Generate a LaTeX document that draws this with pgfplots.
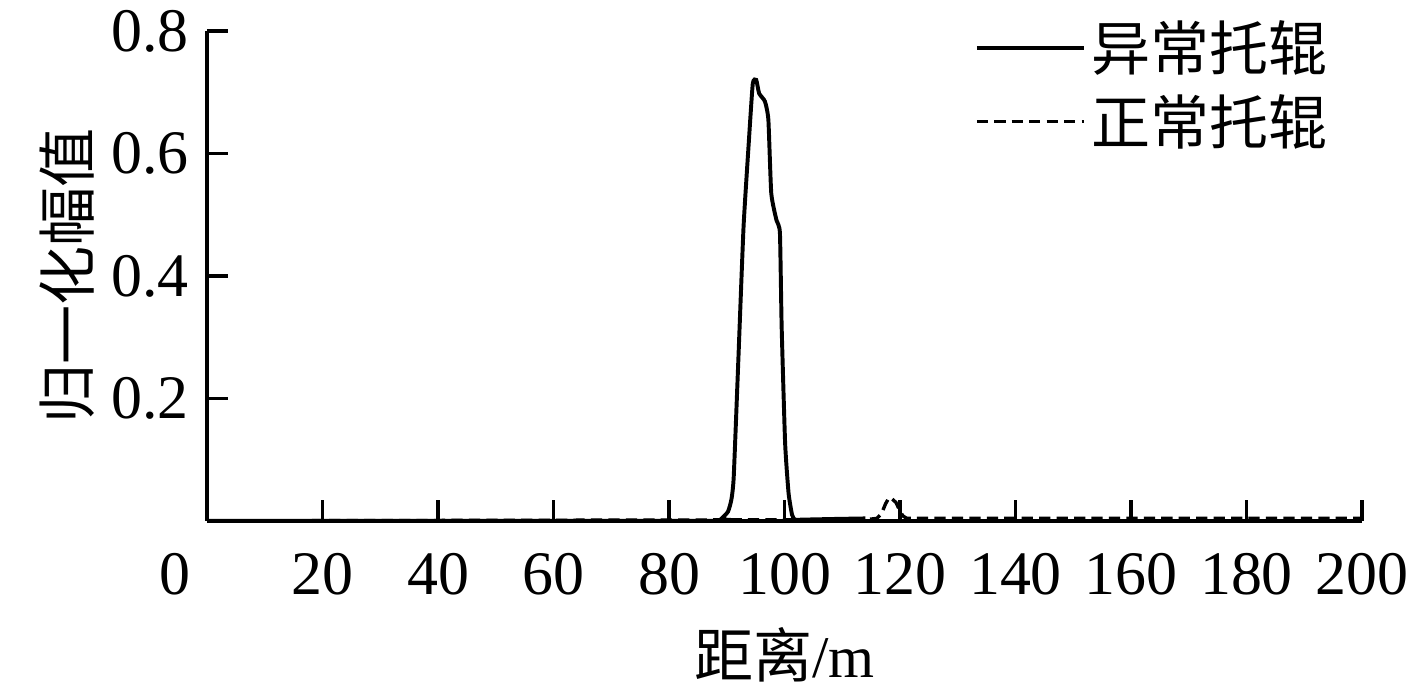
\documentclass[border=0pt]{standalone}
\usepackage{pgfplots}
\pgfplotsset{compat=1.18}
\usepackage{fontspec}
\setmainfont{Liberation Serif}
\newfontfamily\cjk{Noto Sans CJK SC}
\begin{document}
\begin{tikzpicture}
\useasboundingbox (-73.6pt,-61.1pt) rectangle (426.4pt,185.1pt);
\begin{axis}[
  scale only axis,
  width=410.4pt, height=174.1pt,
  xmin=0, xmax=200, ymin=0, ymax=0.8,
  axis lines*=left,
  axis line style={line width=1.4pt},
  every tick/.style={black, line width=1.2pt},
  major tick length=7.5pt,
  tick align=inside,
  xtick={20,40,...,200},
  ytick={0.2,0.4,0.6,0.8},
  yticklabels={0.2,0.4,0.6,0.8},
  /pgf/number format/assume math mode=true,
  tick label style={font=\fontsize{22}{26}\selectfont},
  xticklabel style={yshift=-8pt},
  yticklabel style={xshift=-3pt},
  xlabel={\cjk 距离\rmfamily/m},
  ylabel={\cjk 归一化幅值},
  label style={font=\fontsize{21}{25}\selectfont},
  xlabel style={yshift=-4.5pt},
  ylabel style={yshift=-1pt},
  legend style={draw=none, fill=none, at={(0.657,1.045)}, anchor=north west,
    font=\cjk\fontsize{21}{25}\selectfont, row sep=3pt},
  legend cell align=left,
  legend image code/.code={\draw[#1] (0pt,0pt) -- (38pt,0pt);},
  clip=false,
]
\addplot[black, line width=1.4pt, smooth, tension=0.3] coordinates {
(0,0) (88,0) (89,0.003) (90.2,0.015) (90.8,0.035) (91.2,0.072) (92.0,0.263) (92.9,0.48) (93.8,0.617) (94.5,0.714) (95.1,0.72) (95.6,0.698) (96.6,0.685) (97.2,0.655) (97.7,0.535) (98.6,0.491) (99.2,0.47) (99.5,0.317) (100.1,0.127) (100.7,0.045) (101.3,0.01) (101.8,0.002) (103,0.002) (108,0.003) (114,0.004)
};
\addlegendentry{异常托辊}
\addplot[black, line width=1.2pt, dash pattern=on 4pt off 2.2pt] coordinates {
(0,0) (114,0.002) (116,0.004) (116.8,0.012) (117.5,0.028) (118.1,0.038) (118.6,0.036) (119.3,0.03) (119.9,0.018) (120.5,0.008) (121.2,0.004) (140,0.004) (160,0.004) (180,0.004) (200,0.004)
};
\addlegendentry{正常托辊}
\node[font=\fontsize{22}{26}\selectfont, anchor=north] at ([xshift=-11.4pt,yshift=-8pt]axis cs:0,0) {0};
\end{axis}
\end{tikzpicture}
\end{document}
